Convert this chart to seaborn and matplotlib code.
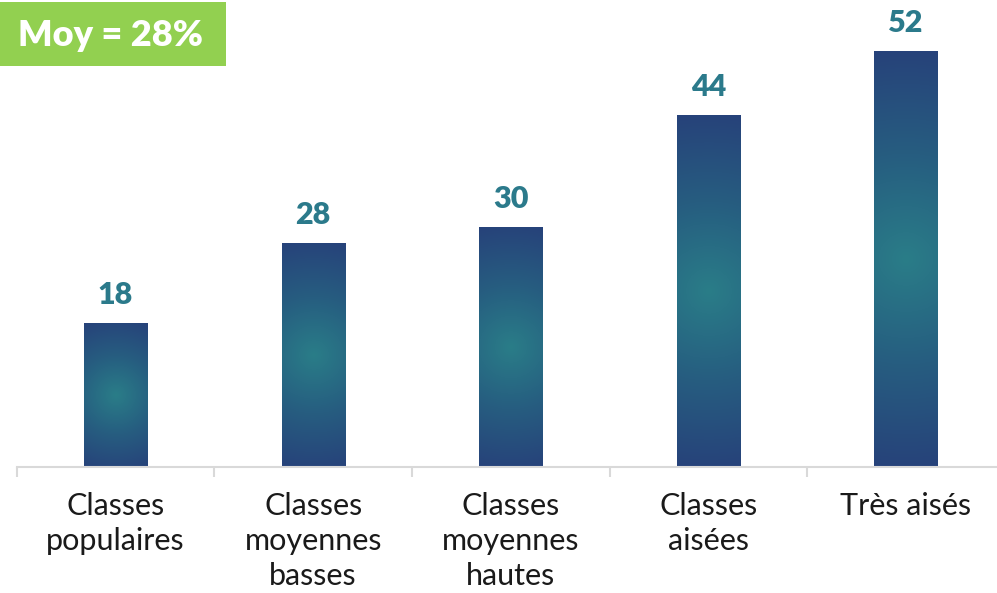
import numpy as np
import pandas as pd
import matplotlib
matplotlib.use("Agg")
import matplotlib.pyplot as plt
import seaborn as sns
from matplotlib.colors import LinearSegmentedColormap
from matplotlib.patches import Rectangle

categories = ["Classes\npopulaires", "Classes\nmoyennes\nbasses", "Classes\nmoyennes\nhautes",
              "Classes\naisées", "Très aisés"]
values = [18, 28, 30, 44, 52]
average_label = "Moy = 28%"

sns.set_theme(style="white")
plt.rcParams["font.family"] = ["Lato", "DejaVu Sans"]

df = pd.DataFrame({"cat": categories, "val": values})

fig = plt.figure(figsize=(9.97, 5.93), dpi=100)
ax = fig.add_axes([0.0168, 0.2125, 0.991, 0.7875])

sns.barplot(data=df, x="cat", y="val", width=0.32, color="#27427a", ax=ax,
            saturation=1, edgecolor="none")

ax.set_xlim(-0.5, 4.5)
ax.set_ylim(0, 58.375)

# radial gradient fill: teal centre fading to navy
cmap = LinearSegmentedColormap.from_list("bar", ["#2a7d88", "#265d80", "#27427a"])
for patch in ax.patches:
    x0, y0 = patch.get_x(), patch.get_y()
    w, h = patch.get_width(), patch.get_height()
    ny = 200
    nx = 40
    yy, xx = np.mgrid[0:ny, 0:nx]
    # distances measured in display pixels so the glow stays round
    hpx = h * 8.0
    wpx = w * 197.6
    dy = (yy + 0.5) / ny * hpx - hpx / 2
    dx = (xx + 0.5) / nx * wpx - wpx / 2
    r = np.sqrt(dx ** 2 + dy ** 2) / np.sqrt((hpx / 2) ** 2 + (wpx / 2) ** 2)
    r = np.clip(r, 0, 1)
    im = ax.imshow(r, cmap=cmap, vmin=0, vmax=1, extent=(x0, x0 + w, y0, y0 + h),
                   origin="lower", aspect="auto", zorder=patch.get_zorder() + 0.1,
                   interpolation="bilinear")
    im.set_clip_path(patch)

for i, v in enumerate(values):
    ax.text(i, v + 1.8, f"{v}", ha="center", va="bottom", fontsize=22,
            fontweight="heavy", color="#2b7a8b")

sns.despine(ax=ax, left=True, right=True, top=True)
ax.spines["bottom"].set_color("#d9d9d9")
ax.spines["bottom"].set_linewidth(1.5)
ax.set_yticks([])
ax.set_xlabel("")
ax.set_ylabel("")
ax.set_xticks(range(len(categories)))
ax.set_xticklabels(categories, fontsize=22, color="#1a1a1a", linespacing=1.3, va="top")
ax.set_xticks(np.arange(-0.5, 5.0, 1.0), minor=True)
ax.tick_params(axis="x", which="major", length=0, pad=18)
ax.tick_params(axis="x", which="minor", length=7.5, width=1.5, color="#d9d9d9",
               direction="out", bottom=True)
ax.set_facecolor("white")
fig.patch.set_facecolor("white")

# average badge in the top-left corner
fig.patches.append(Rectangle((0, 1 - 66 / 593), 226 / 997, 64 / 593, transform=fig.transFigure,
                             facecolor="#92d050", edgecolor="none", zorder=5))
fig.text(111 / 997, 1 - 36 / 593, average_label, ha="center", va="center", fontsize=26,
         fontweight="heavy", color="white", zorder=6)

fig.savefig("out.png", dpi=100, facecolor="white")
